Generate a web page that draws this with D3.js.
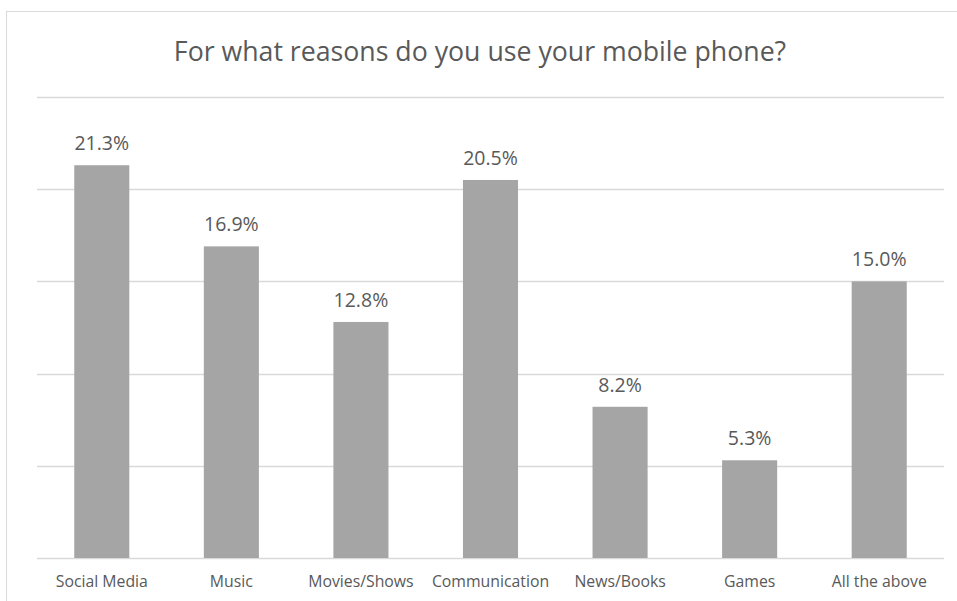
<!DOCTYPE html>
<html>
<head>
<meta charset="utf-8">
<script src="https://cdn.jsdelivr.net/npm/d3@7"></script>
<style>
  html, body { margin: 0; padding: 0; background: #fff; }
  svg { display: block; }
  text { font-family: "Open Sans", "Noto Sans", sans-serif; fill: #595959; }
</style>
</head>
<body>
<svg id="chart" width="957" height="601"></svg>
<script>
const categories = ["Social Media", "Music", "Movies/Shows", "Communication", "News/Books", "Games", "All the above"];
const values = [21.3, 16.9, 12.8, 20.5, 8.2, 5.3, 15.0];
const gridTicks = [0, 5, 10, 15, 20, 25];
const title = "For what reasons do you use your mobile phone?";

const W = 957, H = 601;
const margin = { left: 37, right: 13, top: 97, bottom: 43 };

const svg = d3.select("#chart");

// chart frame
svg.append("rect")
  .attr("x", 6.5).attr("y", 11.5)
  .attr("width", 1000).attr("height", 700)
  .attr("fill", "none").attr("stroke", "#D9D9D9").attr("stroke-width", 1);

const x = d3.scaleBand()
  .domain(categories)
  .range([margin.left, W - margin.right])
  .paddingInner(0.575).paddingOuter(0.2875);

const y = d3.scaleLinear()
  .domain([0, 25])
  .range([H - margin.bottom, margin.top]);

// horizontal gridlines
svg.append("g")
  .selectAll("line")
  .data(gridTicks)
  .join("line")
  .attr("x1", margin.left).attr("x2", W - margin.right)
  .attr("y1", d => Math.round(y(d)) + 0.5).attr("y2", d => Math.round(y(d)) + 0.5)
  .attr("stroke", "#D9D9D9").attr("stroke-width", 1.3);

// bars
svg.append("g")
  .selectAll("rect")
  .data(values)
  .join("rect")
  .attr("x", (d, i) => x(categories[i]))
  .attr("width", x.bandwidth())
  .attr("y", d => y(d))
  .attr("height", d => y(0) - y(d))
  .attr("fill", "#A5A5A5");

// value labels
svg.append("g")
  .selectAll("text")
  .data(values)
  .join("text")
  .attr("x", (d, i) => x(categories[i]) + x.bandwidth() / 2)
  .attr("y", d => y(d) - 15)
  .attr("text-anchor", "middle")
  .style("font-size", "19.5px")
  .text(d => d.toFixed(1) + "%");

// category axis
const xAxis = svg.append("g")
  .attr("transform", `translate(0,${y(0)})`)
  .call(d3.axisBottom(x).tickSize(0).tickPadding(18));
xAxis.select(".domain").remove();
xAxis.selectAll("text")
  .style("font-size", "15.8px")
  .attr("fill", "#595959")
  .style("font-family", "\"Open Sans\", \"Noto Sans\", sans-serif");

// title
svg.append("text")
  .attr("x", 480).attr("y", 61)
  .attr("text-anchor", "middle")
  .style("font-size", "26.7px")
  .text(title);
</script>
</body>
</html>
